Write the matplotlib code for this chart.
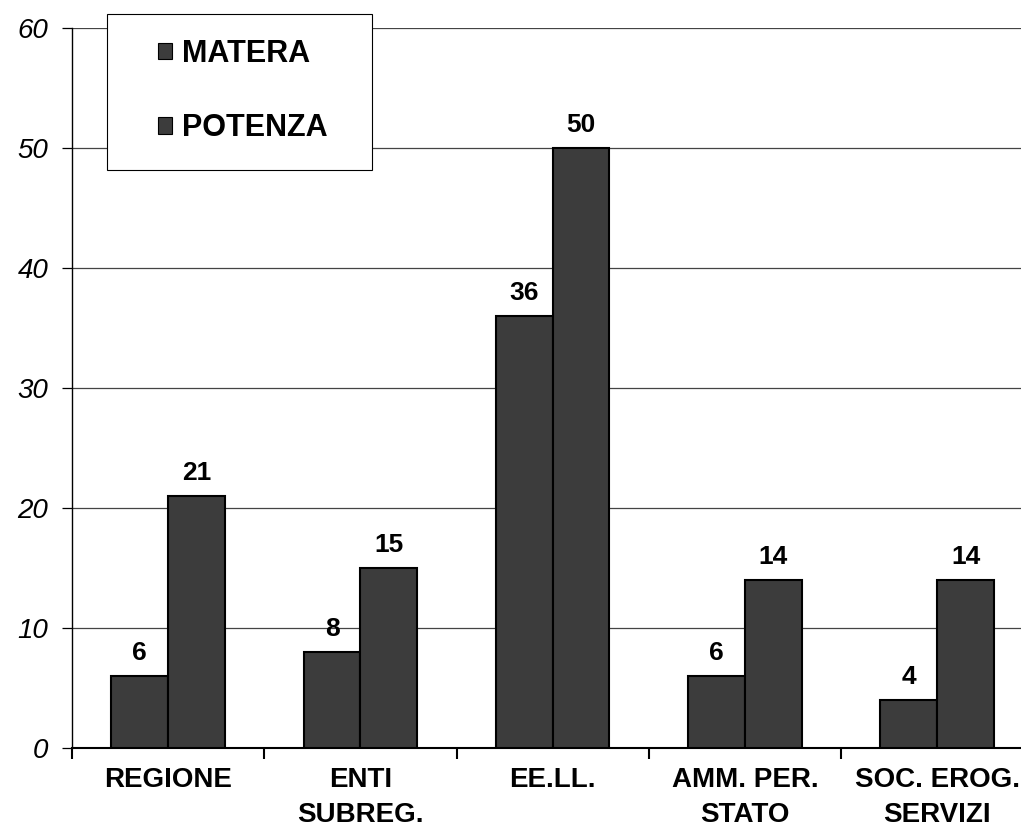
import numpy as np
import matplotlib.pyplot as plt
from matplotlib.patches import Rectangle

plt.rcParams['font.family'] = ['Liberation Sans', 'DejaVu Sans']

categorie = ['REGIONE', 'ENTI\nSUBREG.', 'EE.LL.', 'AMM. PER.\nSTATO', 'SOC. EROG.\nSERVIZI']
matera = [6, 8, 36, 6, 4]
potenza = [21, 15, 50, 14, 14]

fig = plt.figure(figsize=(10.21, 8.31), dpi=100)
ax = fig.add_axes([0.0705, 0.0999, 0.9295, 0.8664])

x = np.arange(len(categorie))
w = 0.295
b1 = ax.bar(x - w/2, matera, w, color='#3c3c3c', edgecolor='black', linewidth=1.5, label='MATERA', zorder=3)
b2 = ax.bar(x + w/2, potenza, w, color='#3c3c3c', edgecolor='black', linewidth=1.5, label='POTENZA', zorder=3)

for bars in (b1, b2):
    for r in bars:
        ax.text(r.get_x() + r.get_width()/2, r.get_height() + 0.9, str(int(r.get_height())),
                ha='center', va='bottom', fontsize=19, fontweight='bold')

ax.set_yticks(range(0, 61, 10))
ax.set_yticklabels([str(v) for v in range(0, 61, 10)], fontsize=20, style='italic')
ax.yaxis.grid(True, color='#444444', linewidth=0.9, zorder=0)

ax.set_xticks(x)
ax.set_xticklabels(categorie, fontsize=20, fontweight='bold', linespacing=1.45)
ax.tick_params(axis='x', length=0, pad=14)
ax.set_xticks(np.arange(-0.5, 4.0, 1), minor=True)
ax.tick_params(axis='x', which='minor', length=8, width=1.5)
ax.tick_params(axis='y', length=7, width=0.9, pad=10)

ax.set_ylim(0, 60)
ax.set_xlim(-0.5, 4.436)

for s in ['top', 'right']:
    ax.spines[s].set_visible(False)
ax.spines['left'].set_linewidth(1.0)
ax.spines['bottom'].set_linewidth(1.5)

# legend box
ax.add_patch(Rectangle((0.037, 0.803), 0.279, 0.217, transform=ax.transAxes, fill=True,
                       facecolor='white', edgecolor='black', linewidth=0.8, clip_on=False, zorder=4))
leg = ax.legend(loc='upper left', bbox_to_anchor=(0.091, 0.985), prop={'weight': 'bold', 'size': 22},
                frameon=False, handlelength=0.46, handleheight=0.46, handletextpad=0.3,
                labelspacing=1.45, borderpad=0, borderaxespad=0)
leg.set_zorder(5)
for h in leg.legend_handles:
    h.set_linewidth(0.8)

fig.savefig('out.png', dpi=100)
